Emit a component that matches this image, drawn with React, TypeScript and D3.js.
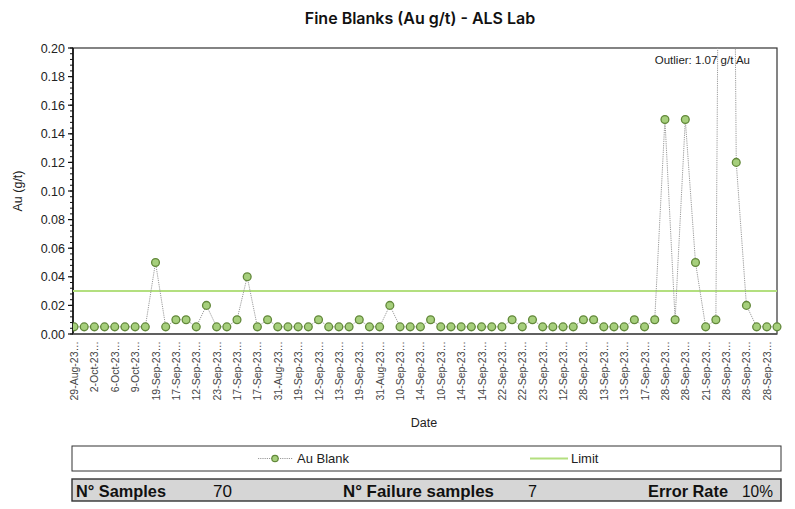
import React, { useEffect, useRef } from 'react';
import * as d3 from 'd3';

// Au blank assays, in sample order (g/t)
const auValues: number[] = [
  0.005, 0.005, 0.005, 0.005, 0.005, 0.005, 0.005, 0.005, 0.05, 0.005,
  0.01, 0.01, 0.005, 0.02, 0.005, 0.005, 0.01, 0.04, 0.005, 0.01,
  0.005, 0.005, 0.005, 0.005, 0.01, 0.005, 0.005, 0.005, 0.01, 0.005,
  0.005, 0.02, 0.005, 0.005, 0.005, 0.01, 0.005, 0.005, 0.005, 0.005,
  0.005, 0.005, 0.005, 0.01, 0.005, 0.01, 0.005, 0.005, 0.005, 0.005,
  0.01, 0.01, 0.005, 0.005, 0.005, 0.01, 0.005, 0.01, 0.15, 0.01,
  0.15, 0.05, 0.005, 0.01, 1.07, 0.12, 0.02, 0.005, 0.005, 0.005,
];

// labels shown on every second sample
const tickLabels: string[] = [
  '29-Aug-23', '2-Oct-23', '6-Oct-23', '9-Oct-23', '19-Sep-23', '17-Sep-23', '12-Sep-23',
  '23-Sep-23', '17-Sep-23', '17-Sep-23', '31-Aug-23', '19-Sep-23', '12-Sep-23', '13-Sep-23',
  '19-Sep-23', '31-Aug-23', '10-Sep-23', '14-Sep-23', '10-Sep-23', '14-Sep-23', '14-Sep-23',
  '22-Sep-23', '22-Sep-23', '23-Sep-23', '12-Sep-23', '28-Sep-23', '13-Sep-23', '13-Sep-23',
  '17-Sep-23', '28-Sep-23', '28-Sep-23', '21-Sep-23', '28-Sep-23', '28-Sep-23', '28-Sep-23',
];

const yTicks: number[] = [0, 0.02, 0.04, 0.06, 0.08, 0.1, 0.12, 0.14, 0.16, 0.18, 0.2];
const limitValue = 0.03;
const outlierNote = 'Outlier: 1.07 g/t Au';
const summary = { samples: 70, failures: 7, errorRate: '10%' };

const W = 795;
const H = 509;
const plot = { left: 73, right: 777, top: 48, bottom: 334 };
const ARIAL = 'Liberation Sans, Arial, sans-serif';

export default function App() {
  const ref = useRef<SVGSVGElement>(null);

  useEffect(() => {
    if (!ref.current) return;
    const svg = d3.select(ref.current);
    svg.selectAll('*').remove();

    const idx = auValues.map((_, i) => i);
    const x = d3.scalePoint<number>().domain(idx).range([plot.left + 1, plot.right]);
    const y = d3.scaleLinear().domain([0, 0.2]).range([plot.bottom, plot.top]);

    svg.append('rect').attr('width', W).attr('height', H).attr('fill', '#fff');

    // title
    svg.append('text')
      .attr('x', 420).attr('y', 24)
      .attr('text-anchor', 'middle')
      .attr('font-family', 'Inter, sans-serif')
      .attr('font-weight', 600)
      .attr('font-size', 16)
      .attr('fill', '#111')
      .text('Fine Blanks (Au g/t) - ALS Lab');

    svg.append('defs').append('clipPath').attr('id', 'plotclip')
      .append('rect')
      .attr('x', plot.left).attr('y', plot.top)
      .attr('width', plot.right - plot.left + 6)
      .attr('height', plot.bottom - plot.top + 6);

    // frame
    svg.append('rect')
      .attr('x', plot.left).attr('y', plot.top)
      .attr('width', plot.right - plot.left).attr('height', plot.bottom - plot.top)
      .attr('fill', 'none').attr('stroke', '#333').attr('stroke-width', 1.2);

    // y axis
    const yAxis = svg.append('g');
    yAxis.append('line')
      .attr('x1', plot.left).attr('x2', plot.left)
      .attr('y1', plot.top).attr('y2', plot.bottom)
      .attr('stroke', '#111').attr('stroke-width', 1.6);
    const minor = d3.range(0, 0.2001, 0.004);
    yAxis.selectAll('line.minor').data(minor).enter().append('line')
      .attr('x1', plot.left - 3).attr('x2', plot.left)
      .attr('y1', (d) => y(d)).attr('y2', (d) => y(d))
      .attr('stroke', '#111').attr('stroke-width', 1);
    yAxis.selectAll('line.major').data(yTicks).enter().append('line')
      .attr('x1', plot.left - 5).attr('x2', plot.left)
      .attr('y1', (d) => y(d)).attr('y2', (d) => y(d))
      .attr('stroke', '#111').attr('stroke-width', 1.2);
    yAxis.selectAll('text').data(yTicks).enter().append('text')
      .attr('x', plot.left - 8).attr('y', (d) => y(d) + 4.5)
      .attr('text-anchor', 'end')
      .attr('font-family', ARIAL).attr('font-size', 12.5)
      .attr('fill', '#222')
      .text((d) => d3.format('.2f')(d));

    svg.append('text')
      .attr('transform', `translate(22,${(plot.top + plot.bottom) / 2}) rotate(-90)`)
      .attr('text-anchor', 'middle')
      .attr('font-family', ARIAL).attr('font-size', 12.5).attr('fill', '#222')
      .text('Au (g/t)');

    // x axis line
    svg.append('line')
      .attr('x1', plot.left).attr('x2', plot.right)
      .attr('y1', plot.bottom).attr('y2', plot.bottom)
      .attr('stroke', '#555').attr('stroke-width', 1.4);

    svg.append('g').selectAll('text').data(tickLabels).enter().append('text')
      .attr('transform', (_, i) => `translate(${(x(i * 2) as number) + 4},${plot.bottom + 7}) rotate(-90)`)
      .attr('text-anchor', 'end')
      .attr('font-family', ARIAL).attr('font-size', 10.5).attr('fill', '#444')
      .text((d) => d + '\u2026');

    svg.append('text')
      .attr('x', 424).attr('y', 427)
      .attr('text-anchor', 'middle')
      .attr('font-family', ARIAL).attr('font-size', 12.5).attr('fill', '#222')
      .text('Date');

    const inner = svg.append('g').attr('clip-path', 'url(#plotclip)');

    // limit
    inner.append('line')
      .attr('x1', plot.left).attr('x2', plot.right)
      .attr('y1', y(limitValue)).attr('y2', y(limitValue))
      .attr('stroke', '#b3df7f').attr('stroke-width', 2);

    const line = d3.line<number>().x((_, i) => x(i) as number).y((d) => y(d));
    inner.append('path')
      .datum(auValues)
      .attr('d', line)
      .attr('fill', 'none')
      .attr('stroke', '#9a9a9a')
      .attr('stroke-width', 1)
      .attr('stroke-dasharray', '1.2,1');

    inner.selectAll('circle').data(auValues).enter().append('circle')
      .attr('cx', (_, i) => x(i) as number)
      .attr('cy', (d) => y(d))
      .attr('r', 3.9)
      .attr('fill', '#a6cf7c')
      .attr('stroke', '#62883a')
      .attr('stroke-width', 1.3);

    svg.append('text')
      .attr('x', 750).attr('y', 64)
      .attr('text-anchor', 'end')
      .attr('font-family', ARIAL).attr('font-size', 11.5).attr('fill', '#222')
      .text(outlierNote);

    // legend
    const lg = svg.append('g');
    lg.append('rect')
      .attr('x', 72).attr('y', 446).attr('width', 709).attr('height', 25)
      .attr('fill', '#fff').attr('stroke', '#333').attr('stroke-width', 1);
    lg.append('line')
      .attr('x1', 258).attr('x2', 293).attr('y1', 458.5).attr('y2', 458.5)
      .attr('stroke', '#9a9a9a').attr('stroke-dasharray', '1.2,1');
    lg.append('circle')
      .attr('cx', 275).attr('cy', 458.5).attr('r', 3.2)
      .attr('fill', '#a6cf7c').attr('stroke', '#62883a').attr('stroke-width', 1.2);
    lg.append('text')
      .attr('x', 297).attr('y', 463)
      .attr('font-family', ARIAL).attr('font-size', 13).attr('fill', '#222')
      .attr('textLength', 52).attr('lengthAdjust', 'spacingAndGlyphs')
      .text('Au Blank');
    lg.append('line')
      .attr('x1', 530).attr('x2', 568).attr('y1', 458.5).attr('y2', 458.5)
      .attr('stroke', '#b3df7f').attr('stroke-width', 2);
    lg.append('text')
      .attr('x', 571).attr('y', 463)
      .attr('font-family', ARIAL).attr('font-size', 13).attr('fill', '#222')
      .text('Limit');

    // summary bar (condensed face emulated with textLength)
    const sb = svg.append('g');
    sb.append('rect')
      .attr('x', 72).attr('y', 479).attr('width', 709).attr('height', 22)
      .attr('fill', '#d6d6d6').attr('stroke', '#333').attr('stroke-width', 1.4);
    const items: [number, string, boolean, number][] = [
      [76, 'N° Samples', true, 90],
      [213, String(summary.samples), false, 19],
      [343, 'N° Failure samples', true, 151],
      [528, String(summary.failures), false, 9],
      [648, 'Error Rate', true, 80],
      [742, summary.errorRate, false, 31],
    ];
    items.forEach(([px, t, bold, len]) => {
      sb.append('text')
        .attr('x', px).attr('y', 496.5)
        .attr('font-family', ARIAL)
        .attr('font-weight', bold ? 700 : 400)
        .attr('font-size', 16.5)
        .attr('fill', '#111')
        .attr('textLength', len)
        .attr('lengthAdjust', 'spacingAndGlyphs')
        .text(t);
    });
  }, []);

  return (
    <svg
      ref={ref}
      width={W}
      height={H}
      style={{ position: 'absolute', left: 0, top: 0, display: 'block' }}
    />
  );
}
